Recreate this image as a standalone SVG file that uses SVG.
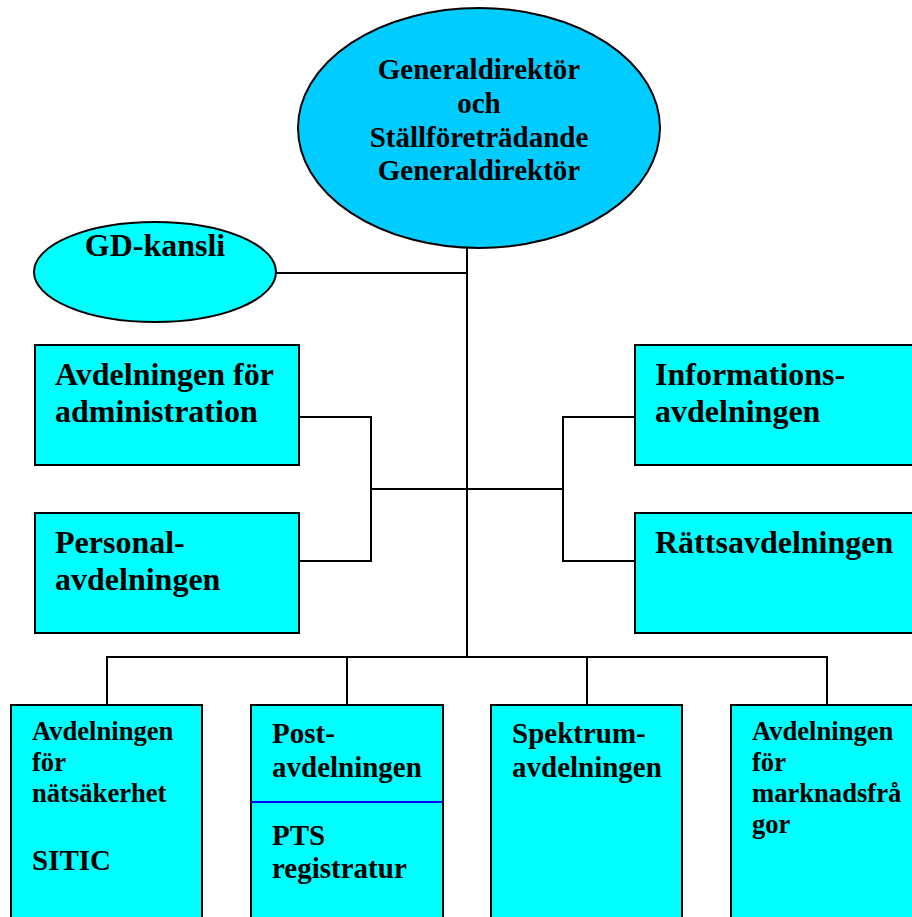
<svg xmlns="http://www.w3.org/2000/svg" width="912" height="917" viewBox="0 0 912 917">
<style>
.box{fill:#00FFFF;stroke:#000;stroke-width:2}
.ell{stroke:#000;stroke-width:2}
.c{fill:none;stroke:#000;stroke-width:2}
text{font-family:"Liberation Serif","Times New Roman",serif;font-weight:bold;fill:#000}
.t32{font-size:32px}
.t29{font-size:29px}
.t26{font-size:26.6px}
</style>
<rect width="912" height="917" fill="#fff"/>
<g id="connectors">
<path class="c" d="M467 248 V657"/>
<path class="c" d="M275 273 H467"/>
<path class="c" d="M299 417 H371 V561 H299"/>
<path class="c" d="M371 489 H563"/>
<path class="c" d="M634 417 H563 V561 H634"/>
<path class="c" d="M107 705 V657 H827 V705"/>
<path class="c" d="M347 657 V705"/>
<path class="c" d="M587 657 V705"/>
</g>
<g id="gd">
<ellipse class="ell" cx="479" cy="128" rx="181" ry="120" fill="#00CCFF"/>
<text class="t29" text-anchor="middle" x="479" y="79">Generaldirektör</text>
<text class="t29" text-anchor="middle" x="479" y="113">och</text>
<text class="t29" text-anchor="middle" x="479" y="147">Ställföreträdande</text>
<text class="t29" text-anchor="middle" x="479" y="180">Generaldirektör</text>
</g>
<g id="gdkansli">
<ellipse class="ell" cx="155" cy="272" rx="121" ry="50" fill="#00FFFF"/>
<text class="t32" text-anchor="middle" x="155" y="256">GD-kansli</text>
</g>
<g id="admin">
<rect class="box" x="35" y="345" width="264" height="120"/>
<text class="t32" x="55" y="385">Avdelningen för</text>
<text class="t32" x="55" y="422">administration</text>
</g>
<g id="personal">
<rect class="box" x="35" y="513" width="264" height="120"/>
<text class="t32" x="55" y="553">Personal-</text>
<text class="t32" x="55" y="590">avdelningen</text>
</g>
<g id="info">
<rect class="box" x="635" y="345" width="290" height="120"/>
<text class="t32" x="655" y="385">Informations-</text>
<text class="t32" x="655" y="422">avdelningen</text>
</g>
<g id="ratt">
<rect class="box" x="635" y="513" width="290" height="120"/>
<text class="t32" x="655" y="553">Rättsavdelningen</text>
</g>
<g id="natsakerhet">
<rect class="box" x="11" y="705" width="191" height="230"/>
<text class="t26" x="32" y="740">Avdelningen</text>
<text class="t26" x="32" y="771">för</text>
<text class="t26" x="32" y="802">nätsäkerhet</text>
<text class="t29" x="32" y="870">SITIC</text>
</g>
<g id="post">
<rect class="box" x="251" y="705" width="192" height="230"/>
<line x1="251" y1="802" x2="443" y2="802" stroke="#0000FF" stroke-width="2"/>
<text class="t29" x="272" y="743">Post-</text>
<text class="t29" x="272" y="777">avdelningen</text>
<text class="t29" x="272" y="845">PTS</text>
<text class="t29" x="272" y="878">registratur</text>
</g>
<g id="spektrum">
<rect class="box" x="491" y="705" width="191" height="230"/>
<text class="t29" x="512" y="743">Spektrum-</text>
<text class="t29" x="512" y="777">avdelningen</text>
</g>
<g id="marknad">
<rect class="box" x="731" y="705" width="192" height="230"/>
<text class="t26" x="752" y="740">Avdelningen</text>
<text class="t26" x="752" y="771">för</text>
<text class="t26" x="752" y="802">marknadsfrå</text>
<text class="t26" x="752" y="833">gor</text>
</g>
</svg>
